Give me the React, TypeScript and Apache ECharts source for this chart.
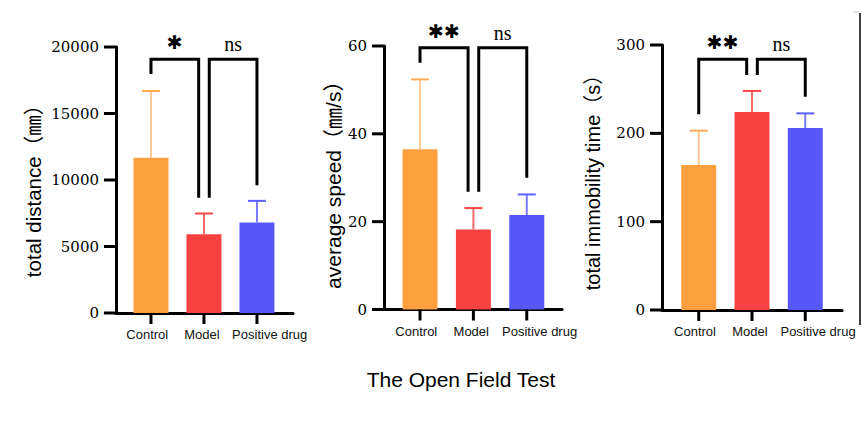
import React, { useEffect, useRef } from "react";
import * as echarts from "echarts";

const categories = ["Control", "Model", "Positive drug"];
const categoryPos = [1, 2, 3];
const barColors = ["#FFA040", "#F84242", "#5858FA"];
const stemColors = ["#FFC994", "#F86A6A", "#7A7AFF"];
const capColors = ["#FFAA55", "#F84848", "#5E5EFF"];

// means and upper ends of the error bars (mean + SD)
const distanceMean = [11667, 5924, 6805];
const distanceUpper = [16690, 7482, 8431];
const speedMean = [36.5, 18.2, 21.5];
const speedUpper = [52.4, 23.1, 26.2];
const immobilityMean = [164.2, 224.2, 206];
const immobilityUpper = [203, 248, 222.6];

// significance brackets: [xStart, xEnd, yTop, yLeftEnd, yRightEnd]
const distanceBrackets = [
  [1, 1.9, 19074, 17970, 8657],
  [2.1, 3, 19074, 8657, 9612],
];
const speedBrackets = [
  [1, 1.9, 59.6, 56.2, 26.8],
  [2.1, 3, 59.6, 26.8, 30.0],
];
const immobilityBrackets = [
  [1, 1.9, 283.8, 221.5, 266],
  [2.1, 3, 283.8, 266, 241.5],
];
const distanceMarks = ["✱", "ns"];
const speedMarks = ["✱✱", "ns"];
const immobilityMarks = ["✱✱", "ns"];

const yTickValues1 = [0, 5000, 10000, 15000, 20000];
const yTickValues2 = [0, 20, 40, 60];
const yTickValues3 = [0, 100, 200, 300];

const title = "The Open Field Test";
const names = ["total distance（㎜）", "average speed（㎜/s）", "total immobility time（s）"];

const SANS = "'Liberation Sans', Arial, 'Noto Sans CJK SC', sans-serif";
const SERIF = "'DejaVu Serif', 'Liberation Serif', serif";

// horizontal nudges of the category labels (layout, in category units)
const LABEL_NUDGE = [-0.07, -0.04, 0.24];

export default function App() {
  const ref = useRef<HTMLDivElement>(null);
  useEffect(() => {
    if (!ref.current) return;
    const chart = echarts.init(ref.current, null, { renderer: "svg" });

    const panels = [
      { grid: { left: 116, top: 47, width: 177, height: 266 }, xr: [0.34, 3.68], ticks: yTickValues1, mean: distanceMean, upper: distanceUpper, br: distanceBrackets, marks: distanceMarks, name: names[0], nameGap: 72, nameSize: 20.5, namePad: [0, 12, 0, 0] },
      { grid: { left: 384, top: 46, width: 178, height: 263.5 }, xr: [0.325, 3.66], ticks: yTickValues2, mean: speedMean, upper: speedUpper, br: speedBrackets, marks: speedMarks, name: names[1], nameGap: 38, nameSize: 21, namePad: [0, 4, 0, 0] },
      { grid: { left: 662, top: 45, width: 180, height: 265 }, xr: [0.31, 3.69], ticks: yTickValues3, mean: immobilityMean, upper: immobilityUpper, br: immobilityBrackets, marks: immobilityMarks, name: names[2], nameGap: 59, nameSize: 20, namePad: [0, 0, 0, 0] },
    ];

    const grids: any[] = [];
    const xAxes: any[] = [];
    const yAxes: any[] = [];
    const series: any[] = [];

    panels.forEach((p, k) => {
      const yMin = p.ticks[0];
      const yMax = p.ticks[p.ticks.length - 1];
      grids.push({ ...p.grid, containLabel: false });
      xAxes.push({
        type: "value",
        gridIndex: k,
        min: p.xr[0],
        max: p.xr[1],
        splitLine: { show: false },
        axisLine: { show: true, lineStyle: { color: "#000", width: 3 } },
        axisTick: { show: false },
        axisLabel: {
          show: true,
          customValues: [p.xr[0], ...categoryPos.map((c, i) => c + LABEL_NUDGE[i]), p.xr[1]],
          formatter: (v: number) => {
            const idx = categoryPos.indexOf(Math.round(v));
            return idx >= 0 ? categories[idx] : " ";
          },
          margin: 15,
          fontSize: 13,
          fontFamily: SANS,
          color: "#111",
        },
      });
      yAxes.push({
        type: "value",
        gridIndex: k,
        min: yMin,
        max: yMax,
        interval: p.ticks[1] - p.ticks[0],
        splitLine: { show: false },
        axisLine: { show: true, lineStyle: { color: "#000", width: 3 } },
        axisTick: { show: false },
        axisLabel: { margin: 17, fontSize: 15, fontFamily: SERIF, color: "#000", formatter: (v: number) => String(v) },
        name: p.name,
        nameLocation: "middle",
        nameGap: p.nameGap,
        nameTextStyle: { fontSize: p.nameSize, fontFamily: SANS, color: "#000", padding: p.namePad },
      });
      series.push({
        type: "bar",
        xAxisIndex: k,
        yAxisIndex: k,
        barWidth: 35,
        data: p.mean.map((v, i) => ({ value: [categoryPos[i], v], itemStyle: { color: barColors[i] } })),
        z: 2,
      });
      series.push({
        type: "custom",
        xAxisIndex: k,
        yAxisIndex: k,
        z: 3,
        data: p.mean.map((v, i) => [categoryPos[i], v, p.upper[i]]),
        encode: { x: 0, y: [1, 2] },
        renderItem: (params: any, api: any) => {
          const i = params.dataIndex;
          const p0 = api.coord([api.value(0), api.value(1)]);
          const p1 = api.coord([api.value(0), api.value(2)]);
          return {
            type: "group",
            children: [
              { type: "line", shape: { x1: p0[0], y1: p0[1], x2: p1[0], y2: p1[1] }, style: { stroke: stemColors[i], lineWidth: 2 } },
              { type: "line", shape: { x1: p1[0] - 9, y1: p1[1], x2: p1[0] + 9, y2: p1[1] }, style: { stroke: capColors[i], lineWidth: 2 } },
            ],
          };
        },
      });
      series.push({
        type: "custom",
        xAxisIndex: k,
        yAxisIndex: k,
        z: 4,
        clip: false,
        data: p.br,
        encode: { x: [0, 1], y: [2, 3, 4] },
        renderItem: (params: any, api: any) => {
          const i = params.dataIndex;
          const xs = api.value(0), xe = api.value(1), yt = api.value(2), yl = api.value(3), yr = api.value(4);
          const a = api.coord([xs, yl]);
          const b = api.coord([xs, yt]);
          const c = api.coord([xe, yt]);
          const d = api.coord([xe, yr]);
          const mark = p.marks[i];
          const isStar = mark !== "ns";
          return {
            type: "group",
            children: [
              { type: "polyline", shape: { points: [a, b, c, d] }, style: { stroke: "#000", lineWidth: 3, fill: null, lineJoin: "miter" } },
              {
                type: "text",
                x: (b[0] + c[0]) / 2,
                y: b[1] - (isStar ? 17 : 15),
                style: isStar
                  ? { text: mark, align: "center", verticalAlign: "middle", fontSize: 19, fontFamily: "'DejaVu Sans'", fill: "#000" }
                  : { text: mark, align: "center", verticalAlign: "middle", fontSize: 20, fontFamily: "'Liberation Serif', serif", fill: "#000" },
              },
            ],
          };
        },
      });
    });

    chart.setOption({
      animation: false,
      backgroundColor: "#fff",
      grid: grids,
      xAxis: xAxes,
      yAxis: yAxes,
      series,
    });

    // axis ticks, positioned through the axes' own scales
    const tickGraphics: any[] = [];
    panels.forEach((p, k) => {
      const finder = { xAxisIndex: k, yAxisIndex: k };
      p.ticks.forEach((v) => {
        const pt = chart.convertToPixel(finder, [p.xr[0], v]) as number[];
        tickGraphics.push({
          type: "rect",
          z: 100,
          shape: { x: pt[0] - 12, y: pt[1] - 1.5, width: 12, height: 3 },
          style: { fill: "#000" },
        });
      });
      categoryPos.forEach((c) => {
        const pt = chart.convertToPixel(finder, [c, p.ticks[0]]) as number[];
        tickGraphics.push({
          type: "rect",
          z: 100,
          shape: { x: pt[0] - 1.5, y: pt[1], width: 3, height: 11 },
          style: { fill: "#000" },
        });
      });
    });

    chart.setOption({
      graphic: [
        { type: "text", x: 461, y: 379, style: { text: title, align: "center", verticalAlign: "middle", fontSize: 21, fontFamily: SANS, fill: "#000" } },
        { type: "line", shape: { x1: 860, y1: 13, x2: 860, y2: 325 }, style: { stroke: "#000", lineWidth: 1.5 } },
        { type: "line", shape: { x1: 853, y1: 12, x2: 860, y2: 12 }, style: { stroke: "#ccc", lineWidth: 1 } },
        ...tickGraphics,
      ],
    });
    return () => chart.dispose();
  }, []);
  return <div ref={ref} style={{ position: "absolute", left: 0, top: 0, width: 862, height: 429 }} />;
}
